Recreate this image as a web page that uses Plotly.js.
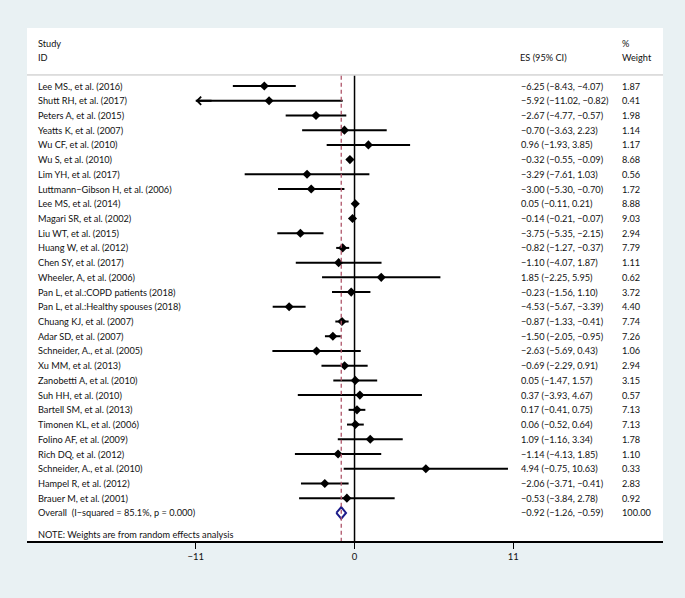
<!DOCTYPE html>
<html>
<head>
<meta charset="utf-8">
<script src="https://cdn.plot.ly/plotly-3.0.1.min.js"></script>
<style>
  body { margin: 0; background: #e9f1f3; }
  #plotArea { width: 685px; height: 598px; }
</style>
</head>
<body>
<div id="plotArea"></div>
<script>
// studies, top to bottom
var studies = ["Lee MS., et al. (2016)", "Shutt RH, et al. (2017)", "Peters A, et al. (2015)",
  "Yeatts K, et al. (2007)", "Wu CF, et al. (2010)", "Wu S, et al. (2010)", "Lim YH, et al. (2017)",
  "Luttmann\u2212Gibson H, et al. (2006)", "Lee MS, et al. (2014)", "Magari SR, et al. (2002)",
  "Liu WT, et al. (2015)", "Huang W, et al. (2012)", "Chen SY, et al. (2017)", "Wheeler, A, et al. (2006)",
  "Pan L, et al.:COPD patients (2018)", "Pan L, et al.:Healthy spouses (2018)", "Chuang KJ, et al. (2007)",
  "Adar SD, et al. (2007)", "Schneider, A., et al. (2005)", "Xu MM, et al. (2013)",
  "Zanobetti A, et al. (2010)", "Suh HH, et al. (2010)", "Bartell SM, et al. (2013)",
  "Timonen KL, et al. (2006)", "Folino AF, et al. (2009)", "Rich DQ, et al. (2012)",
  "Schneider, A., et al. (2010)", "Hampel R, et al. (2012)", "Brauer M, et al. (2001)"];
var es = [-6.25, -5.92, -2.67, -0.70, 0.96, -0.32, -3.29, -3.00, 0.05, -0.14, -3.75, -0.82, -1.10, 1.85,
  -0.23, -4.53, -0.87, -1.50, -2.63, -0.69, 0.05, 0.37, 0.17, 0.06, 1.09, -1.14, 4.94, -2.06, -0.53];
var lower = [-8.43, -11.02, -4.77, -3.63, -1.93, -0.55, -7.61, -5.30, -0.11, -0.21, -5.35, -1.27, -4.07, -2.25,
  -1.56, -5.67, -1.33, -2.05, -5.69, -2.29, -1.47, -3.93, -0.41, -0.52, -1.16, -4.13, -0.75, -3.71, -3.84];
var upper = [-4.07, -0.82, -0.57, 2.23, 3.85, -0.09, 1.03, -0.70, 0.21, -0.07, -2.15, -0.37, 1.87, 5.95,
  1.10, -3.39, -0.41, -0.95, 0.43, 0.91, 1.57, 4.67, 0.75, 0.64, 3.34, 1.85, 10.63, -0.41, 2.78];
var weights = [1.87, 0.41, 1.98, 1.14, 1.17, 8.68, 0.56, 1.72, 8.88, 9.03, 2.94, 7.79, 1.11, 0.62,
  3.72, 4.40, 7.74, 7.26, 1.06, 2.94, 3.15, 0.57, 7.13, 7.13, 1.78, 1.10, 0.33, 2.83, 0.92];

var overallLabel = "Overall  (I\u2212squared = 85.1%, p = 0.000)";
var overallES = -0.92, overallLo = -1.26, overallHi = -0.59, overallW = 100.00;

var tickVals = [-11, 0, 11];
var xMin = -11;   // display limit, CI clipped with arrow

var FONT = "Lato, 'Open Sans', sans-serif";
var FS = 9.2;
var txt = "#111111";

function fmt(v) { return v.toFixed(2).replace("-", "\u2212"); }

var rows = studies.map(function (s, i) { return i; });
var overallRow = studies.length;

var clippedLo = lower.map(function (v) { return Math.max(v, xMin); });

var points = {
  x: es, y: rows,
  mode: "markers", type: "scatter",
  marker: {symbol: "diamond", size: 7, color: "black"},
  error_x: {
    type: "data", symmetric: false,
    array: upper.map(function (v, i) { return v - es[i]; }),
    arrayminus: clippedLo.map(function (v, i) { return es[i] - v; }),
    width: 0, thickness: 2, color: "black"
  },
  hoverinfo: "skip"
};

var h = 0.39;
var diamond = {
  x: [overallLo, overallES, overallHi, overallES, overallLo],
  y: [overallRow, overallRow + h, overallRow, overallRow - h, overallRow],
  mode: "lines", type: "scatter",
  line: {color: "#1c1c8a", width: 2},
  hoverinfo: "skip"
};

var ann = [];
function label(x, y, text) {
  ann.push({xref: "paper", yref: "y", x: x, y: y, text: text, showarrow: false,
    xanchor: "left", yanchor: "middle", font: {family: FONT, size: FS, color: txt}});
}
var xStudy = 0.0142, xES = 0.7736, xW = 0.932;
label(xStudy, -2.92, "Study");
label(xStudy, -1.97, "ID");
label(0.772, -1.97, "ES (95% CI)");
label(xW, -2.92, "%");
label(xW, -1.97, "Weight");
studies.forEach(function (s, i) {
  label(xStudy, i, s);
  label(xES, i, fmt(es[i]) + " (" + fmt(lower[i]) + ", " + fmt(upper[i]) + ")");
  label(xW, i, weights[i].toFixed(2));
});
label(xStudy, overallRow, overallLabel);
label(xES, overallRow, fmt(overallES) + " (" + fmt(overallLo) + ", " + fmt(overallHi) + ")");
label(xW, overallRow, overallW.toFixed(2));
label(xStudy, overallRow + 1.5, "NOTE: Weights are from random effects analysis");

// arrow head for clipped CI
lower.forEach(function (v, i) {
  if (v < xMin) {
    ann.push({xref: "x", yref: "y", axref: "x", ayref: "y", x: xMin, y: i, ax: xMin + 1.2, ay: i,
      showarrow: true, arrowhead: 4, arrowsize: 0.8, arrowwidth: 2, arrowcolor: "black", text: ""});
  }
});

var layout = {
  width: 685, height: 598,
  margin: {l: 27, r: 22, t: 28, b: 57},
  paper_bgcolor: "#e9f1f3",
  plot_bgcolor: "white",
  showlegend: false,
  font: {family: FONT, size: FS, color: txt},
  xaxis: {
    range: [-22.69, 21.37], showgrid: false, zeroline: false,
    showline: true, linecolor: "black", linewidth: 1.5,
    ticks: "outside", ticklen: 6, tickwidth: 1.5, tickcolor: "black",
    tickvals: tickVals, tickfont: {family: FONT, size: 9.5, color: txt}
  },
  yaxis: {range: [30.91, -3.94], visible: false},
  shapes: [
    {type: "line", xref: "paper", yref: "y", x0: 0, x1: 1, y0: -0.75, y1: -0.75,
      line: {color: "#bfbfbf", width: 1}},
    {type: "line", xref: "x", yref: "y", x0: 0, x1: 0, y0: -0.7, y1: 30.91,
      line: {color: "black", width: 1.5}},
    {type: "line", xref: "x", yref: "y", x0: overallES, x1: overallES, y0: -0.7, y1: 30.91,
      line: {color: "#b0566a", width: 1.3, dash: "4px,3px"}}
  ],
  annotations: ann
};

Plotly.newPlot("plotArea", [points, diamond], layout, {staticPlot: true});
</script>
</body>
</html>
